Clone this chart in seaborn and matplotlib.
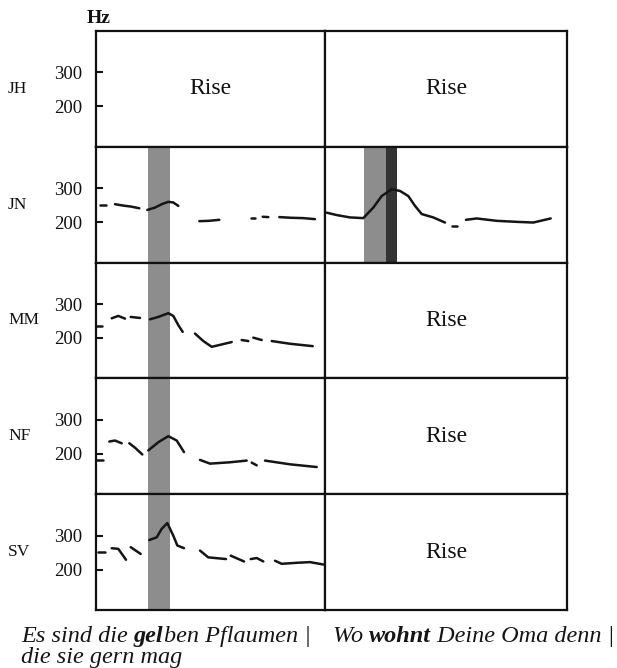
import numpy as np
import pandas as pd
import matplotlib
matplotlib.use("Agg")
import matplotlib.pyplot as plt
import seaborn as sns

# ---------------- data ----------------
speakers = ["JH", "JN", "MM", "NF", "SV"]
hz_ticks = [200, 300]
hz_range = (81, 422)
t_range_left = (0, 229)
t_range_right = (0, 242)

# accented syllable intervals (time units)
accent_left = (52.3, 74.0)          # "gel"
accent_right = (39.0, 72.3)         # "wohnt"
accent_right_dark = (61.0, 72.3)

# F0 contour segments, left sentence
jn_left_t = [[4, 10], [19, 27, 35, 43.3], [51.3, 59, 65.7, 72.3, 77.3, 82.3],
             [103.3, 113, 123.3], [155, 159], [166.7, 172.3], [183.3, 195, 207, 219]]
jn_left_hz = [[250, 250], [253, 249, 246, 241], [236, 243, 253, 260, 258, 248],
              [203, 204, 207], [211, 211], [216, 215], [215, 213, 212, 209]]

mm_left_t = [[0, 5.7], [15.7, 22.3, 29], [34.7, 44], [54, 62.3, 72.3, 77.3, 82.3, 86.7],
             [99, 107.3, 115.7, 125.7, 135.7], [145.7, 152.3], [157.3, 165.7], [175.7, 194, 216.7]]
mm_left_hz = [[236, 236], [258, 265, 257], [262, 259], [255, 262, 273, 265, 238, 218],
              [213, 191, 174, 181, 188], [194, 191], [201, 194], [191, 183, 176]]

nf_left_t = [[0, 7], [13.3, 19, 25.7], [33.3, 39, 46.3], [52.3, 62.3, 72.3, 80.7, 88],
             [104, 114, 134, 150.7], [155.7, 160.7], [169, 194, 220.7]]
nf_left_hz = [[182, 182], [236, 239, 231], [231, 218, 198], [210, 234, 252, 239, 205],
              [182, 171, 175, 180], [174, 166], [180, 169, 161]]

sv_left_t = [[2.3, 9], [15.7, 22.3, 30], [34.7, 44.7], [53.3, 60.7, 65.7, 71.3, 77.3, 81.3, 88],
             [104, 112.3, 130], [134.7, 148], [154.7, 160.7, 167.3], [179, 185.7, 200.7, 214, 227.3]]
sv_left_hz = [[253, 253], [263, 261, 229], [266, 246], [287, 295, 320, 337, 300, 271, 263],
              [256, 236, 231], [241, 224], [231, 234, 224], [226, 217, 220, 222, 215]]

# F0 contour segments, right sentence
jn_right_t = [[1.7, 11.7, 25, 38.3, 48.3, 56.7, 66.7, 75, 83.3, 90, 96.7, 108.3, 120],
              [126.7, 131.7], [141, 151.7, 171.7, 191.7, 208.3, 225.7]]
jn_right_hz = [[228, 221, 214, 212, 243, 277, 297, 292, 277, 248, 224, 214, 199],
               [189, 189], [207, 211, 204, 201, 199, 211]]

contours = {
    ("JN", 0): (jn_left_t, jn_left_hz),
    ("MM", 0): (mm_left_t, mm_left_hz),
    ("NF", 0): (nf_left_t, nf_left_hz),
    ("SV", 0): (sv_left_t, sv_left_hz),
    ("JN", 1): (jn_right_t, jn_right_hz),
}
rise_panels = [("JH", 0), ("JH", 1), ("MM", 1), ("NF", 1), ("SV", 1)]
accent_left_speakers = ["JN", "MM", "NF", "SV"]
accent_right_speakers = ["JN"]

caption_left_1 = [("Es sind die ", "normal"), ("gel", "bold"), ("ben Pflaumen |", "normal")]
caption_left_2 = [("die sie gern mag", "normal")]
caption_right = [("Wo ", "normal"), ("wohnt", "bold"), (" Deine Oma denn |", "normal")]

rows = []
for (spk, col), (ts, hs) in contours.items():
    for k, (tt, hh) in enumerate(zip(ts, hs)):
        for a, b in zip(tt, hh):
            rows.append(dict(speaker=spk, col=col, seg=k, t=a, hz=b))
df = pd.DataFrame(rows)

# ---------------- figure ----------------
sns.set_theme(style="white")
plt.rcParams["font.family"] = ["Liberation Serif", "DejaVu Serif"]

W, H = 617, 668
fig = plt.figure(figsize=(W / 100, H / 100), dpi=100)
gs = fig.add_gridspec(5, 2, left=96 / W, right=567 / W, top=1 - 31 / H, bottom=1 - 610 / H,
                      wspace=0, hspace=0, width_ratios=[229, 242])

line_col = "#151515"
for i, spk in enumerate(speakers):
    for c in range(2):
        ax = fig.add_subplot(gs[i, c])
        ax.set_xlim(*(t_range_left if c == 0 else t_range_right))
        ax.set_ylim(*hz_range)
        ax.set_facecolor("white")
        if c == 0 and spk in accent_left_speakers:
            ax.axvspan(*accent_left, color="#8d8d8d", lw=0, zorder=1)
        if c == 1 and spk in accent_right_speakers:
            ax.axvspan(*accent_right, color="#8d8d8d", lw=0, zorder=1)
            ax.axvspan(*accent_right_dark, color="#333333", lw=0, zorder=1)
        sub = df[(df.speaker == spk) & (df.col == c)]
        if len(sub):
            sns.lineplot(data=sub, x="t", y="hz", units="seg", estimator=None, sort=False,
                         color=line_col, lw=1.8, ax=ax, legend=False, zorder=3)
        if (spk, c) in rise_panels:
            ax.text(0.5, 0.5, "Rise", transform=ax.transAxes, ha="center", va="center",
                    fontsize=17, color="#111111")
        ax.set_xlabel("")
        ax.set_ylabel("")
        ax.set_xticks([])
        if c == 0:
            ax.set_yticks(hz_ticks)
            ax.set_yticklabels([str(v) for v in hz_ticks])
            ax.tick_params(axis="y", direction="in", length=5, width=1.5, pad=10,
                           labelsize=13.5, colors="#111111", left=True)
        else:
            ax.set_yticks([])
        for s in ax.spines.values():
            s.set_linewidth(1.6)
            s.set_color("#111111")
            s.set_zorder(5)
        # speaker label
        if c == 0:
            ymid = 1 - (31 + (i + 0.5) * (579 / 5)) / H
            fig.text(8 / W, ymid, spk, ha="left", va="center", fontsize=12.5, color="#111111")

fig.text(99 / W, 1 - 18.5 / H, "Hz", ha="center", va="center", fontsize=14,
         fontweight="bold", color="#111111")

renderer = fig.canvas.get_renderer()


def text_width(s, weight, size):
    t1 = fig.text(0, 0, s + "|", fontsize=size, fontstyle="italic", fontweight=weight)
    t2 = fig.text(0, 0, "|", fontsize=size, fontstyle="italic", fontweight=weight)
    w = t1.get_window_extent(renderer).width - t2.get_window_extent(renderer).width
    t1.remove()
    t2.remove()
    return w


def rich_line(x_px, y_px, parts, size=17.5):
    x = x_px
    for s, weight in parts:
        fig.text(x / W, 1 - y_px / H, s, fontsize=size, fontstyle="italic",
                 fontweight=weight, ha="left", va="baseline", color="#151515")
        x += text_width(s, weight, size)


rich_line(21, 642, caption_left_1)
rich_line(21, 663, caption_left_2)
rich_line(333, 642, caption_right)

fig.savefig("out.png", dpi=100)
